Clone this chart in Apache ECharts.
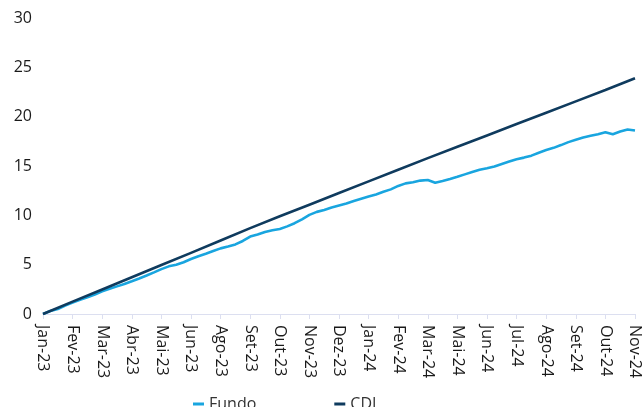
<!DOCTYPE html>
<html>
<head>
<meta charset="utf-8">
<script src="https://cdn.jsdelivr.net/npm/echarts@6/dist/echarts.min.js"></script>
<style>
  html, body { margin: 0; padding: 0; background: #fff; }
  #chart { width: 643px; height: 407px; }
</style>
</head>
<body>
<div id="chart"></div>
<script>
// month labels under the ticks (the source skips Jul-23 and Abr-24)
const tickLabels = ['Jan-23', 'Fev-23', 'Mar-23', 'Abr-23', 'Mai-23', 'Jun-23', 'Ago-23', 'Set-23',
  'Out-23', 'Nov-23', 'Dez-23', 'Jan-24', 'Fev-24', 'Mar-24', 'Mai-24', 'Jun-24', 'Jul-24',
  'Ago-24', 'Set-24', 'Out-24', 'Nov-24'];

// CDI, one value per tick
const cdi = [0, 1.25, 2.48, 3.72, 4.96, 6.2, 7.45, 8.7, 9.9, 11.08, 12.26,
  13.44, 14.62, 15.8, 16.95, 18.1, 19.25, 20.4, 21.55, 22.7, 23.9];

// Fundo, four values per tick (roughly weekly)
const fundo = [0, 0.3, 0.5, 0.85,
  1.15, 1.43, 1.7, 1.98,
  2.3, 2.55, 2.8, 3.05,
  3.32, 3.6, 3.9, 4.22,
  4.55, 4.83, 5.0, 5.25,
  5.57, 5.85, 6.1, 6.38,
  6.65, 6.83, 7.05, 7.4,
  7.85, 8.05, 8.3, 8.48,
  8.62, 8.88, 9.2, 9.6,
  10.05, 10.35, 10.55, 10.8,
  11.0, 11.2, 11.45, 11.68,
  11.9, 12.12, 12.38, 12.63,
  12.98, 13.24, 13.35, 13.52,
  13.58, 13.3, 13.48, 13.68,
  13.9, 14.15, 14.4, 14.63,
  14.78, 14.95, 15.2, 15.45,
  15.68, 15.85, 16.05, 16.35,
  16.62, 16.84, 17.12, 17.42,
  17.65, 17.88, 18.06, 18.22,
  18.42, 18.22, 18.5, 18.7,
  18.6];

const chart = echarts.init(document.getElementById('chart'));

const font = '"Open Sans", "DejaVu Sans", sans-serif';

const option = {
  animation: false,
  grid: { left: 43, right: 8, top: 18, bottom: 93 },
  legend: {
    data: ['Fundo', 'CDI'],
    left: 193,
    top: 396,
    padding: 0,
    icon: 'rect',
    itemWidth: 11,
    itemHeight: 3,
    itemGap: 78,
    textStyle: { fontFamily: font, fontSize: 16, color: '#333' }
  },
  xAxis: {
    type: 'value',
    min: 0,
    max: 20,
    interval: 1,
    axisLine: { lineStyle: { color: '#dcdff0', width: 1 } },
    axisTick: { show: true, length: 5, lineStyle: { color: '#dcdff0' } },
    splitLine: { show: false },
    axisLabel: {
      rotate: -90,
      margin: 11,
      fontFamily: font,
      fontSize: 16,
      color: '#1a1a1a',
      formatter: v => tickLabels[v] || ''
    }
  },
  yAxis: {
    type: 'value',
    min: 0,
    max: 30,
    interval: 5,
    axisLine: { show: false },
    axisTick: { show: false },
    splitLine: { show: false },
    axisLabel: { margin: 11, fontFamily: font, fontSize: 16, color: '#1a1a1a' }
  },
  series: [
    {
      name: 'Fundo',
      type: 'line',
      showSymbol: false,
      lineStyle: { color: '#19a5df', width: 2.6 },
      itemStyle: { color: '#19a5df' },
      data: fundo.map((v, i) => [i / 4, v])
    },
    {
      name: 'CDI',
      type: 'line',
      showSymbol: false,
      lineStyle: { color: '#0f3b5e', width: 2.6 },
      itemStyle: { color: '#0f3b5e' },
      data: cdi.map((v, i) => [i, v])
    }
  ]
};

chart.setOption(option);
</script>
</body>
</html>
